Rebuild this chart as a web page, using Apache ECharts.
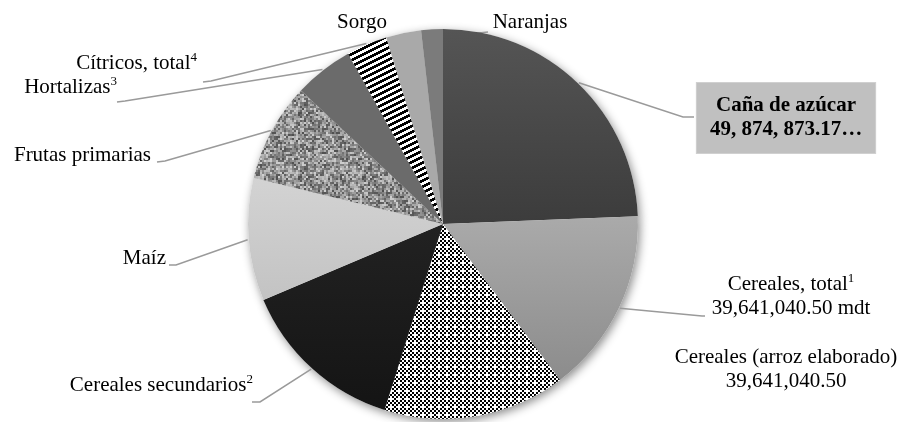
<!DOCTYPE html>
<html>
<head>
<meta charset="utf-8">
<script src="https://cdn.jsdelivr.net/npm/echarts@6/dist/echarts.min.js"></script>
<style>
  html, body { margin: 0; padding: 0; background: #fff; }
  #chart { width: 898px; height: 422px; }
</style>
</head>
<body>
<div id="chart"></div>
<script>
// categorías (en el orden de las manecillas del reloj, desde las 12)
var categorias = ['Caña de azúcar', 'Cereales, total', 'Cereales (arroz elaborado)',
  'Cereales secundarios', 'Maíz', 'Frutas primarias', 'Hortalizas',
  'Cítricos, total', 'Sorgo', 'Naranjas'];

// participación estimada de cada rebanada (%)
var valores = [24.4, 15.4, 15.1, 13.8, 10.2, 8.2, 4.9, 3.4, 2.9, 1.8];

// textos de las etiquetas
var etiquetas = [
  '{b|Caña de azúcar}\n{b|49, 874, 873.17…}',
  'Cereales, total{sup|1}\n39,641,040.50 mdt',
  'Cereales (arroz elaborado)\n39,641,040.50',
  'Cereales secundarios{sup|2}',
  'Maíz',
  'Frutas primarias',
  'Hortalizas{sup|3}',
  'Cítricos, total{sup|4}',
  'Sorgo',
  'Naranjas'
];

var FUENTE = '"Liberation Serif", "Times New Roman", serif';
var CX = 443, CY = 224, R = 195;

// posición de cada etiqueta y su línea guía
var posEtiquetas = [
  { x: 786, y: 118, align: 'center', line: [[683, 117], [694, 117]] },
  { x: 791, y: 296, align: 'center', line: [[702, 316], [705, 316]] },
  { x: 786, y: 369, align: 'center', line: null },
  { x: 253, y: 385, align: 'right', line: [[260, 402], [252, 402]] },
  { x: 166, y: 258, align: 'right', line: [[176, 265], [169, 265]] },
  { x: 151, y: 155, align: 'right', line: [[165, 161], [157, 162]] },
  { x: 117, y: 87, align: 'right', line: [[125, 101], [117, 102]] },
  { x: 197, y: 63, align: 'right', line: [[211, 81], [203, 82]] },
  { x: 362, y: 22, align: 'center', line: null },
  { x: 530, y: 22, align: 'center', line: [[488, 32]], start: [444, 37] }
];

// --- texturas ---
function lienzo(w, h) {
  var c = document.createElement('canvas');
  c.width = w; c.height = h;
  return c;
}
// cuadriculado con puntos blancos
function texturaCuadros() {
  var c = lienzo(8, 8), ctx = c.getContext('2d');
  for (var y = 0; y < 8; y++) {
    for (var x = 0; x < 8; x++) {
      var negro = (((x >> 1) + (y >> 1)) & 1) === 0;
      if ((x === 6 || x === 7) && (y === 6 || y === 7)) negro = false;
      ctx.fillStyle = negro ? '#000' : '#fff';
      ctx.fillRect(x, y, 1, 1);
    }
  }
  return c;
}
// rayas diagonales
function texturaRayas() {
  var c = lienzo(12, 6), ctx = c.getContext('2d');
  for (var y = 0; y < 6; y++) {
    for (var x = 0; x < 12; x++) {
      var v = (y + x * 0.5) % 6;
      ctx.fillStyle = v < 3 ? '#000' : '#fff';
      ctx.fillRect(x, y, 1, 1);
    }
  }
  return c;
}
// granulado gris (generador fijo, solo para la textura)
function texturaGrano() {
  var c = lienzo(64, 64), ctx = c.getContext('2d');
  var s = 12345;
  for (var y = 0; y < 64; y += 2) {
    for (var x = 0; x < 64; x += 2) {
      s = (s * 1103515245 + 12345) & 0x7fffffff;
      var g = 80 + (s % 130);
      ctx.fillStyle = 'rgb(' + g + ',' + g + ',' + g + ')';
      ctx.fillRect(x, y, 2, 2);
    }
  }
  return c;
}
function degradado(a, b) {
  return new echarts.graphic.LinearGradient(0, 0, 0, 1, [
    { offset: 0, color: a }, { offset: 1, color: b }
  ]);
}

var rellenos = [
  degradado('#555555', '#3c3c3c'),
  degradado('#aaaaaa', '#8c8c8c'),
  { image: texturaCuadros(), repeat: 'repeat' },
  degradado('#222222', '#141414'),
  degradado('#d3d3d3', '#c3c3c3'),
  { image: texturaGrano(), repeat: 'repeat' },
  '#6b6b6b',
  { image: texturaRayas(), repeat: 'repeat' },
  '#a9a9a9',
  '#7b7b7b'
];

// ángulo medio de cada rebanada (en grados, desde las 12, sentido horario)
var total = valores.reduce(function (a, b) { return a + b; }, 0);
var angMedio = [], acum = 0;
valores.forEach(function (v) {
  angMedio.push((acum + v / 2) / total * 360);
  acum += v;
});

var datos = categorias.map(function (n, i) {
  var item = {
    name: n,
    value: valores[i],
    itemStyle: { color: rellenos[i] },
    label: { formatter: etiquetas[i] },
    labelLine: { show: !!posEtiquetas[i].line }
  };
  if (i === 0) {
    item.label.backgroundColor = '#c0c0c0';
    item.label.padding = [11, 13, 11, 13];
    item.label.borderColor = '#d0d0d0';
    item.label.borderWidth = 1;
  }
  return item;
});

var sombra = categorias.map(function (n, i) {
  return { name: n, value: valores[i] };
});

var chart = echarts.init(document.getElementById('chart'));

var option = {
  backgroundColor: '#fff',
  animation: false,
  series: [
    {
      // sombra del pastel
      type: 'pie',
      silent: true,
      z: 1,
      center: [CX, CY],
      radius: R,
      startAngle: 90,
      clockwise: true,
      label: { show: false },
      labelLine: { show: false },
      itemStyle: {
        color: '#ffffff',
        shadowBlur: 10,
        shadowOffsetX: 2,
        shadowOffsetY: 3,
        shadowColor: 'rgba(0,0,0,0.45)'
      },
      data: sombra
    },
    {
      type: 'pie',
      z: 2,
      center: [CX, CY],
      radius: R,
      startAngle: 90,
      clockwise: true,
      avoidLabelOverlap: false,
      itemStyle: { borderWidth: 0 },
      label: {
        show: true,
        position: 'outside',
        fontFamily: FUENTE,
        fontSize: 21,
        lineHeight: 24,
        color: '#000',
        rich: {
          sup: { fontFamily: FUENTE, fontSize: 13, lineHeight: 24, verticalAlign: 'top', color: '#000' },
          b: { fontFamily: FUENTE, fontSize: 21, lineHeight: 24, fontWeight: 'bold', color: '#000' }
        }
      },
      labelLine: {
        show: true,
        smooth: false,
        lineStyle: { color: '#9a9a9a', width: 1.5 }
      },
      labelLayout: function (params) {
        var i = params.dataIndex;
        var p = posEtiquetas[i];
        var out = { x: p.x, y: p.y, align: p.align, verticalAlign: 'middle' };
        if (p.line) {
          var a = angMedio[i] * Math.PI / 180;
          var inicio = p.start || [CX + (R + 1) * Math.sin(a), CY - (R + 1) * Math.cos(a)];
          out.labelLinePoints = [inicio].concat(p.line);
          if (out.labelLinePoints.length < 3) out.labelLinePoints.push(p.line[p.line.length - 1]);
        }
        return out;
      },
      data: datos
    }
  ]
};

chart.setOption(option);
</script>
</body>
</html>
